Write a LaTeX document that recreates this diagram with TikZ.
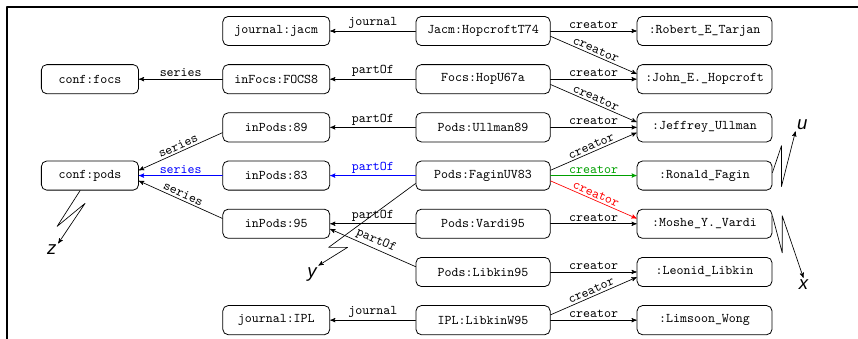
\documentclass[tikz,border=0pt]{standalone}
\usepackage{fontspec}
\newfontfamily\axisfont{Liberation Sans}
\usetikzlibrary{arrows}
\definecolor{linkblue}{RGB}{0,0,255}
\definecolor{linkgreen}{RGB}{0,160,0}
\definecolor{linkred}{RGB}{255,0,0}
\tikzset{>=stealth',
every picture/.append style={
    line join=round,
    line cap=round
  },
rec/.style={draw, line width=0.6pt, rounded corners=4pt, minimum height=0.77cm, inner sep=2pt, font=\ttfamily},
lbl/.style={font=\ttfamily, inner sep=1.5pt},
dir/.style={font=\axisfont\itshape\fontsize{14}{14}\selectfont, inner sep=1pt}}

\begin{document}
\begin{tikzpicture}[line width=0.5pt]
    \useasboundingbox (0,0) rectangle (22.70,-8.968);
    \draw [line width=1.5pt,line cap=butt] (22.70,-0.185) -- (0.185,-0.185) -- (0.185,-8.968);
    % conferences
    \node [rec,minimum width=2.57cm] (cfocs) at (2.38,-2.095) {conf:focs};
    \node [rec,minimum width=2.57cm] (cpods) at (2.38,-4.645) {conf:pods};
    % journals and proceedings
    \node [rec,minimum width=2.83cm] (jjacm) at (7.31,-0.82) {journal:jacm};
    \node [rec,minimum width=2.83cm] (focs8) at (7.31,-2.095) {inFocs:FOCS8};
    \node [rec,minimum width=2.83cm] (pods89) at (7.31,-3.37) {inPods:89};
    \node [rec,minimum width=2.83cm] (pods83) at (7.31,-4.645) {inPods:83};
    \node [rec,minimum width=2.83cm] (pods95) at (7.31,-5.92) {inPods:95};
    \node [rec,minimum width=2.83cm] (jipl) at (7.31,-8.47) {journal:IPL};
    % papers
    \node [rec,minimum width=3.55cm] (hopT74) at (12.78,-0.82) {Jacm:HopcroftT74};
    \node [rec,minimum width=3.55cm] (hopU67a) at (12.78,-2.095) {Focs:HopU67a};
    \node [rec,minimum width=3.55cm] (ullman89) at (12.78,-3.37) {Pods:Ullman89};
    \node [rec,minimum width=3.55cm] (faginUV83) at (12.78,-4.645) {Pods:FaginUV83};
    \node [rec,minimum width=3.55cm] (vardi95) at (12.78,-5.92) {Pods:Vardi95};
    \node [rec,minimum width=3.55cm] (libkin95) at (12.78,-7.195) {Pods:Libkin95};
    \node [rec,minimum width=3.55cm] (libkinW95) at (12.78,-8.47) {IPL:LibkinW95};
    % authors
    \node [rec,minimum width=3.57cm] (tarjan) at (18.64,-0.82) {:Robert\_E\_Tarjan};
    \node [rec,minimum width=3.57cm] (hopcroft) at (18.64,-2.095) {:John\_E.\_Hopcroft};
    \node [rec,minimum width=3.57cm] (ullman) at (18.64,-3.37) {:Jeffrey\_Ullman};
    \node [rec,minimum width=3.57cm] (fagin) at (18.64,-4.645) {:Ronald\_Fagin};
    \node [rec,minimum width=3.57cm] (vardi) at (18.64,-5.92) {:Moshe\_Y.\_Vardi};
    \node [rec,minimum width=3.57cm] (libkin) at (18.64,-7.195) {:Leonid\_Libkin};
    \node [rec,minimum width=3.57cm] (wong) at (18.64,-8.47) {:Limsoon\_Wong};

    \draw [->] (hopT74) -- (jjacm) node [lbl,midway,above] {journal};
    \draw [->] (hopT74) -- (tarjan) node [lbl,midway,above] {creator};
    \draw [->] ([yshift=-4pt]hopT74.east) -- ([yshift=4pt]hopcroft.west) node [lbl,midway,above,sloped] {creator};
    \draw [->] (hopU67a) -- (focs8) node [lbl,midway,above] {partOf};
    \draw [->] (focs8) -- (cfocs) node [lbl,midway,above] {series};
    \draw [->] (hopU67a) -- (hopcroft) node [lbl,midway,above] {creator};
    \draw [->] ([yshift=-4pt]hopU67a.east) -- ([yshift=4pt]ullman.west) node [lbl,midway,above,sloped] {creator};
    \draw [->] (ullman89) -- (pods89) node [lbl,midway,above] {partOf};
    \draw [->] (ullman89) -- (ullman) node [lbl,midway,above] {creator};
    \draw [->] ([yshift=-4pt]pods89.west) -- ([yshift=4pt]cpods.east) node [lbl,midway,above,sloped] {series};
    \draw [->,linkblue] (faginUV83) -- (pods83) node [lbl,midway,above] {partOf};
    \draw [->,linkblue] (pods83) -- (cpods) node [lbl,midway,above] {series};
    \draw [->] ([yshift=4pt]pods95.west) -- ([yshift=-4pt]cpods.east) node [lbl,midway,above,sloped] {series};
    \draw [->] ([yshift=4pt]faginUV83.east) -- ([yshift=-4pt]ullman.west) node [lbl,midway,above,sloped] {creator};
    \draw [->,linkgreen] (faginUV83) -- (fagin) node [lbl,midway,above] {creator};
    \draw [->,linkred] ([yshift=-4pt]faginUV83.east) -- ([yshift=4pt]vardi.west) node [lbl,midway,above,sloped] {creator};
    \draw [->] (vardi95) -- (pods95) node [lbl,midway,above] {partOf};
    \draw [->] (vardi95) -- (vardi) node [lbl,midway,above] {creator};
    \draw [->] ([yshift=4pt]libkin95.west) -- ([yshift=-4pt]pods95.east) node [lbl,midway,above,sloped] {partOf};
    \draw [->] (libkin95) -- (libkin) node [lbl,midway,above] {creator};
    \draw [->] (libkinW95) -- (jipl) node [lbl,midway,above] {journal};
    \draw [->] ([yshift=4pt]libkinW95.east) -- ([yshift=-4pt]libkin.west) node [lbl,midway,above,sloped] {creator};
    \draw [->] (libkinW95) -- (wong) node [lbl,midway,above] {creator};

    % links to the rest of the graph
    \draw [->] ([xshift=-0.26cm]cpods.south) --++ (-0.61,-0.95) --++ (0.74,0.61) --++ (-0.71,-1.06) node [dir,below left] {z};
    \draw [->] ([yshift=-0.21cm]faginUV83.west) --++ (-2.30,-1.69) --++ (0.50,0) --++ (-0.77,-0.48) node [dir,below left] {y};
    \draw [->] ([yshift=0.08cm]fagin.east) --++ (0.24,0.71) --++ (0,-1.08) --++ (0.37,1.46) node [dir,above right] {u};
    \draw [->] ([yshift=0.21cm]vardi.east) --++ (0.26,-0.98) --++ (0,0.98) --++ (0.56,-1.64) node [dir,below] {x};
\end{tikzpicture}
\end{document}
